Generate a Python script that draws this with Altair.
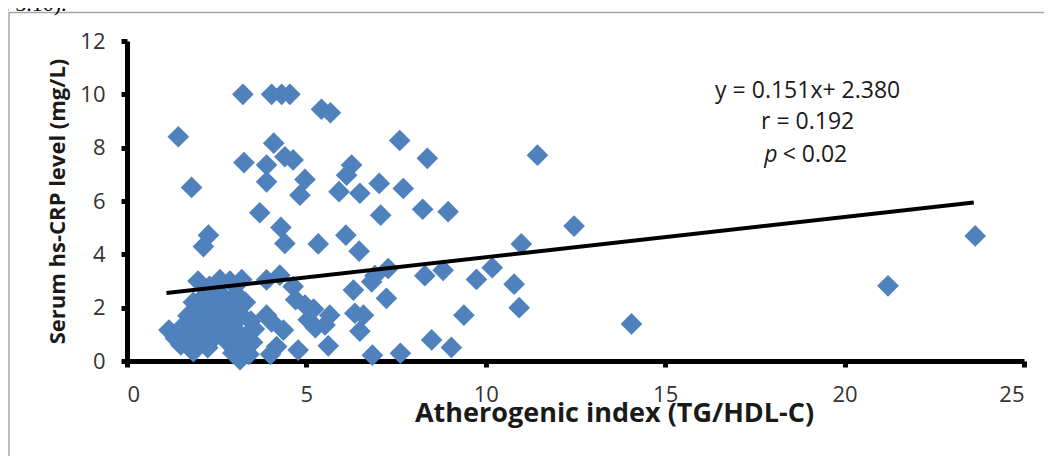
import altair as alt
import pandas as pd

# Atherogenic index (TG/HDL-C) and serum hs-CRP (mg/L)
atherogenic_index = [
    1.43, 3.23, 4.03, 4.31, 4.54, 5.42, 5.67, 4.09, 3.26, 4.40, 4.63, 3.89, 3.89, 4.96, 4.82,
    1.80, 3.70, 4.29, 4.40, 2.27, 2.13, 7.60, 8.37, 6.26, 6.12, 5.91, 6.49, 7.03, 7.70, 7.07,
    8.24, 8.95, 5.33, 6.10, 6.47, 11.44, 12.46, 10.99, 10.18, 9.74, 10.79, 10.93, 9.39, 9.04,
    8.49, 7.62, 6.84, 7.28, 6.91, 6.82, 8.30, 8.81, 7.23, 6.31, 6.35, 6.59, 6.49, 5.61, 14.06,
    21.21, 23.64, 4.26, 3.89, 4.63, 4.70, 4.96, 5.65, 5.52, 4.03, 4.36, 3.89, 4.17, 4.00, 4.77,
    5.05, 5.20, 5.25,
    1.98, 2.30, 2.59, 2.87, 3.20,
    1.17, 1.35, 1.50, 1.55, 1.70, 1.75, 1.85, 1.85, 1.95, 2.00, 2.05, 2.15, 2.20, 2.25, 2.30,
    2.40, 2.45, 2.50, 2.55, 2.65, 2.70, 2.75, 2.80, 2.85, 2.90, 2.95, 3.00, 3.05, 3.10, 3.15,
    3.20, 3.25, 3.30, 3.35, 3.40, 3.45, 3.50, 3.55,
]
hs_crp = [
    8.41, 10.0, 10.0, 10.0, 10.0, 9.44, 9.31, 8.17, 7.44, 7.66, 7.54, 7.35, 6.72, 6.81, 6.22,
    6.51, 5.56, 5.01, 4.41, 4.72, 4.29, 8.27, 7.60, 7.35, 6.97, 6.35, 6.29, 6.66, 6.47, 5.47,
    5.69, 5.60, 4.39, 4.72, 4.12, 7.72, 5.06, 4.39, 3.50, 3.06, 2.88, 2.00, 1.72, 0.51,
    0.79, 0.29, 0.22, 3.47, 3.20, 2.97, 3.20, 3.40, 2.35, 2.66, 1.79, 1.72, 1.12, 0.57, 1.39,
    2.82, 4.69, 3.22, 3.04, 2.79, 2.30, 2.10, 1.72, 1.35, 1.47, 1.16, 1.72, 0.54, 0.25, 0.41,
    1.55, 1.95, 1.25,
    3.00, 2.80, 3.05, 3.00, 3.05,
    1.16, 0.85, 0.60, 1.30, 1.70, 1.00, 0.35, 2.20, 1.40, 0.70, 1.90, 1.10, 2.50, 0.50, 1.60,
    2.10, 0.90, 1.30, 2.60, 1.80, 1.10, 2.30, 0.70, 1.50, 2.00, 0.30, 1.20, 2.50, 0.80, 0.05,
    1.70, 0.50, 2.20, 1.00, 0.25, 1.50, 0.70, 1.20,
]

# Fitted line y = 0.151x + 2.380 drawn over the range of the data
slope, intercept = 0.151, 2.380
trend_x = [1.1, 23.6]
trend_y = [slope * v + intercept for v in trend_x]

x_ticks = [0, 5, 10, 15, 20, 25]
y_ticks = [0, 2, 4, 6, 8, 10, 12]

annot_lines = ["y = 0.151x+ 2.380", "r = 0.192"]
annot_x = [18.97, 18.97]
annot_y = [10.12, 8.95]
p_text = ["p", "< 0.02"]
p_x = 18.97
p_y = 7.72

FONT = "Open Sans"

df = pd.DataFrame({"x": atherogenic_index, "y": hs_crp})
tdf = pd.DataFrame({"x": trend_x, "y": trend_y})
adf = pd.DataFrame({"x": annot_x, "y": annot_y, "t": annot_lines})

xscale = alt.Scale(domain=[0, 25], nice=False)
yscale = alt.Scale(domain=[0, 12], nice=False)

points = alt.Chart(df).mark_point(
    shape="diamond", filled=True, size=470, color="#4F81BD", opacity=1
).encode(
    x=alt.X(
        "x:Q", scale=xscale,
        axis=alt.Axis(
            values=x_ticks, title="Atherogenic index (TG/HDL-C)", grid=False,
            titleX=487, titleY=39, titleAnchor="middle", titleAlign="center",
            titleBaseline="top", labelPadding=17, titleFontSize=27,
        ),
    ),
    y=alt.Y(
        "y:Q", scale=yscale,
        axis=alt.Axis(values=y_ticks, title="Serum hs-CRP level (mg/L)", grid=False,
                      labelPadding=16, titlePadding=10, titleFontSize=22),
    ),
)

trend = alt.Chart(tdf).mark_line(color="black", strokeWidth=4).encode(
    x=alt.X("x:Q", scale=xscale), y=alt.Y("y:Q", scale=yscale)
)

annot = alt.Chart(adf).mark_text(
    font=FONT, fontSize=23, color="#1a1a1a", align="center", baseline="middle"
).encode(x=alt.X("x:Q", scale=xscale), y=alt.Y("y:Q", scale=yscale), text="t:N")

pdf = pd.DataFrame({"x": [p_x], "y": [p_y], "p": [p_text[0]], "q": [p_text[1]]})
p_italic = alt.Chart(pdf).mark_text(
    font=FONT, fontSize=23, fontStyle="italic", color="#1a1a1a", align="right",
    baseline="middle", dx=-30
).encode(x=alt.X("x:Q", scale=xscale), y=alt.Y("y:Q", scale=yscale), text="p:N")
p_rest = alt.Chart(pdf).mark_text(
    font=FONT, fontSize=23, color="#1a1a1a", align="left", baseline="middle", dx=-25
).encode(x=alt.X("x:Q", scale=xscale), y=alt.Y("y:Q", scale=yscale), text="q:N")

frame = alt.Chart(pd.DataFrame({"a": [0]})).mark_rect(
    fillOpacity=0, stroke="#a6a6a6", strokeWidth=1.5
).encode(x=alt.value(-118), x2=alt.value(922), y=alt.value(-28.5), y2=alt.value(480))

caption = alt.Chart(pd.DataFrame({"c": ["e 5.10)."]})).mark_text(
    font="Liberation Serif", fontSize=22, color="black", align="left", baseline="alphabetic"
).encode(x=alt.value(-127), y=alt.value(-30), text="c:N")

chart = alt.layer(frame, caption, points, trend, annot, p_italic, p_rest).properties(
    width=897, height=320,
    autosize=alt.AutoSizeParams(type="none"),
    padding={"left": 119, "top": 33, "right": 20, "bottom": 95},
).configure_view(stroke=None).configure_axis(
    domainColor="black", domainWidth=5, tickColor="black", tickWidth=5, tickSize=6,
    labelFont=FONT, labelFontSize=22, labelColor="#333333",
    titleFont=FONT, titleFontWeight="bold", titleColor="#1a1a1a",
)

chart.save("out.html", embed_options={"renderer": "svg", "actions": False})
